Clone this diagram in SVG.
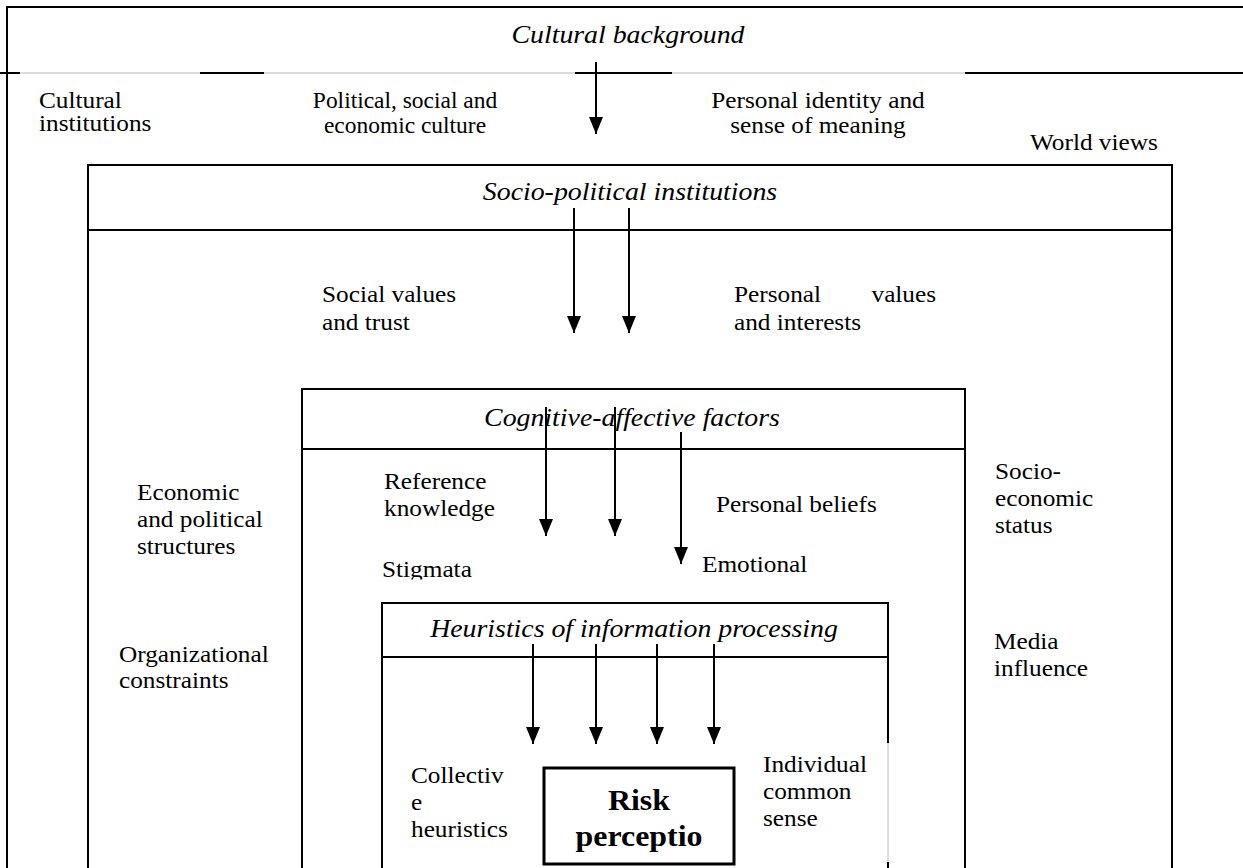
<svg xmlns="http://www.w3.org/2000/svg" width="1243" height="868" viewBox="0 0 1243 868">
<defs>
<style>
.ln{stroke:#000;stroke-width:2;fill:none}
.gr{stroke:#b8b8b8;stroke-width:1;fill:none}
.ar{stroke:#000;stroke-width:2;fill:none;marker-end:url(#ah)}
.t{font-family:"Liberation Serif","Tinos","Times New Roman",serif;font-size:23px;fill:#000}
.ti{font-family:"Liberation Serif","Tinos","Times New Roman",serif;font-size:25.3px;font-style:italic;fill:#000;text-anchor:middle}
.tb{font-family:"Liberation Serif","Tinos","Times New Roman",serif;font-size:29px;font-weight:bold;fill:#000;text-anchor:middle}
.m{text-anchor:middle}
</style>
<marker id="ah" viewBox="0 0 17 14" refX="17" refY="7" markerWidth="17" markerHeight="14" markerUnits="userSpaceOnUse" orient="auto">
<path d="M0,0 L17,7 L0,14 z" fill="#000"/>
</marker>
<clipPath id="clipStig"><rect x="300" y="540" width="200" height="39.5"/></clipPath>
</defs>
<rect width="1243" height="868" fill="#fff"/>

<g id="cultural-background">
<path class="ln" d="M7,7 H1243 M7,6 V868"/>
<path class="ln" d="M0,73 H20 M200,73 H264 M575,73 H672 M965,73 H1243"/>
<path class="gr" d="M20,73 H200 M264,73 H575 M672,73 H965"/>
<text class="ti" transform="matrix(1.1,0,0,1,628,43)" x="0" y="0">Cultural background</text>
<text class="t" transform="matrix(1.1,0,0,1,39,107.5)"><tspan x="0" y="0">Cultural</tspan><tspan x="0" y="23.5">institutions</tspan></text>
<text class="t m" transform="matrix(1.02,0,0,1,405,107.5)"><tspan x="0" y="0">Political, social and</tspan><tspan x="0" y="26">economic culture</tspan></text>
<text class="t m" transform="matrix(1.1,0,0,1,818,107.5)"><tspan x="0" y="0">Personal identity and</tspan><tspan x="0" y="26">sense of meaning</tspan></text>
<text class="t" transform="matrix(1.1,0,0,1,1030,150)" x="0" y="0">World views</text>
</g>

<g id="socio-political-institutions">
<path class="ln" d="M88,868 V165 H1172 V868 M88,230 H1172"/>
<text class="ti" transform="matrix(1.1,0,0,1,630,200)" x="0" y="0">Socio-political institutions</text>
<text class="t" transform="matrix(1.1,0,0,1,322,302)"><tspan x="0" y="0">Social values</tspan><tspan x="0" y="28">and trust</tspan></text>
<text class="t" transform="matrix(1.1,0,0,1,734,302)"><tspan x="0" y="0">Personal</tspan><tspan x="125" y="0">values</tspan><tspan x="0" y="28">and interests</tspan></text>
<text class="t" transform="matrix(1.1,0,0,1,137,500)"><tspan x="0" y="0">Economic</tspan><tspan x="0" y="27">and political</tspan><tspan x="0" y="54">structures</tspan></text>
<text class="t" transform="matrix(1.1,0,0,1,119,662)"><tspan x="0" y="0">Organizational</tspan><tspan x="0" y="26">constraints</tspan></text>
<text class="t" transform="matrix(1.1,0,0,1,995,479)"><tspan x="0" y="0">Socio-</tspan><tspan x="0" y="27">economic</tspan><tspan x="0" y="54">status</tspan></text>
<text class="t" transform="matrix(1.1,0,0,1,994,649)"><tspan x="0" y="0">Media</tspan><tspan x="0" y="27">influence</tspan></text>
</g>

<g id="cognitive-affective-factors">
<path class="ln" d="M302,868 V389 H965 V868 M302,449 H965"/>
<text class="ti" transform="matrix(1.1,0,0,1,632,426)" x="0" y="0">Cognitive-affective factors</text>
<text class="t" transform="matrix(1.1,0,0,1,384,489)"><tspan x="0" y="0">Reference</tspan><tspan x="0" y="27">knowledge</tspan></text>
<text class="t" transform="matrix(1.1,0,0,1,716,512)" x="0" y="0">Personal beliefs</text>
<g clip-path="url(#clipStig)"><text class="t" transform="matrix(1.1,0,0,1,382,577)" x="0" y="0">Stigmata</text></g>
<text class="t" transform="matrix(1.1,0,0,1,702,572)" x="0" y="0">Emotional</text>
</g>

<g id="heuristics-of-information-processing">
<path class="ln" d="M382,868 V603 H888 V743 M382,657 H888 M888,862 V868"/>
<path class="gr" d="M888,743 V862"/>
<text class="ti" transform="matrix(1.1,0,0,1,634,637)" x="0" y="0">Heuristics of information processing</text>
<text class="t" transform="matrix(1.1,0,0,1,411,783)"><tspan x="0" y="0">Collectiv</tspan><tspan x="0" y="27">e</tspan><tspan x="0" y="54">heuristics</tspan></text>
<text class="t" transform="matrix(1.1,0,0,1,763,772)"><tspan x="0" y="0">Individual</tspan><tspan x="0" y="27">common</tspan><tspan x="0" y="54">sense</tspan></text>
</g>

<g id="risk-perception">
<rect x="544" y="768" width="190" height="96" fill="none" stroke="#000" stroke-width="3"/>
<text class="tb" transform="matrix(1.1,0,0,1,639,810)"><tspan x="0" y="0">Risk</tspan><tspan x="0" y="36">perceptio</tspan></text>
</g>

<g id="connectors">
<line class="ar" x1="596" y1="62" x2="596" y2="134"/>
<line class="ar" x1="574" y1="208" x2="574" y2="333"/>
<line class="ar" x1="629" y1="208" x2="629" y2="333"/>
<line class="ar" x1="546" y1="407" x2="546" y2="536"/>
<line class="ar" x1="615" y1="407" x2="615" y2="536"/>
<line class="ar" x1="681" y1="432" x2="681" y2="564"/>
<line class="ar" x1="533" y1="644" x2="533" y2="744"/>
<line class="ar" x1="596" y1="644" x2="596" y2="744"/>
<line class="ar" x1="657" y1="644" x2="657" y2="744"/>
<line class="ar" x1="714" y1="644" x2="714" y2="744"/>
</g>
</svg>
